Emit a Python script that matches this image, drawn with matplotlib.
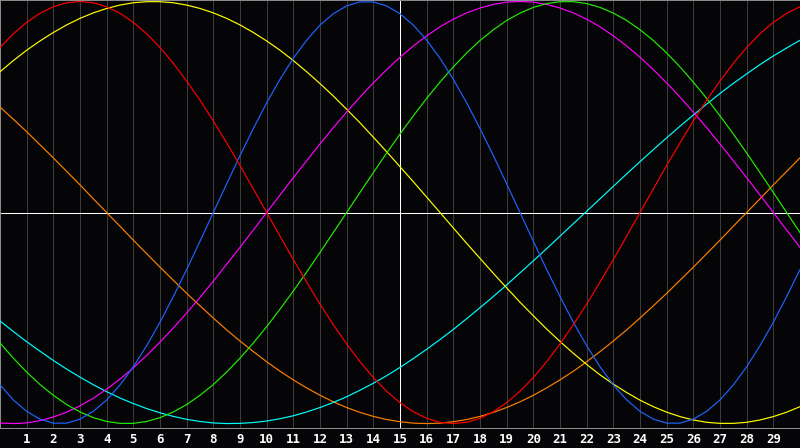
import matplotlib
matplotlib.use('Agg')
import matplotlib.pyplot as plt

days = [i / 2 for i in range(61)]
tick_days = list(range(1, 30))
today = 15

# values for each curve (-1 .. 1), one per half day
red = [0.782, 0.847, 0.901, 0.944, 0.975, 0.994, 1.000, 0.994, 0.975, 0.944,
       0.901, 0.847, 0.782, 0.707, 0.623, 0.532, 0.434, 0.330, 0.223, 0.112,
       0.0, -0.112, -0.223, -0.330, -0.434, -0.532, -0.623, -0.707, -0.782, -0.847,
       -0.901, -0.944, -0.975, -0.994, -1.000, -0.994, -0.975, -0.944, -0.901, -0.847,
       -0.782, -0.707, -0.623, -0.532, -0.434, -0.330, -0.223, -0.112, 0.0, 0.112,
       0.223, 0.330, 0.434, 0.532, 0.623, 0.707, 0.782, 0.847, 0.901, 0.944, 0.975]
blue = [-0.817, -0.888, -0.942, -0.979, -0.998, -0.998, -0.979, -0.942, -0.888, -0.817,
        -0.731, -0.631, -0.520, -0.398, -0.270, -0.136, 0.0, 0.136, 0.270, 0.398,
        0.520, 0.631, 0.731, 0.817, 0.888, 0.942, 0.979, 0.998, 0.998, 0.979,
        0.942, 0.888, 0.817, 0.731, 0.631, 0.520, 0.398, 0.270, 0.136, 0.0,
        -0.136, -0.270, -0.398, -0.520, -0.631, -0.731, -0.817, -0.888, -0.942, -0.979,
        -0.998, -0.998, -0.979, -0.942, -0.888, -0.817, -0.731, -0.631, -0.520, -0.398, -0.270]
green = [-0.618, -0.690, -0.756, -0.815, -0.866, -0.910, -0.945, -0.972, -0.990, -0.999,
         -0.999, -0.990, -0.972, -0.945, -0.910, -0.866, -0.815, -0.756, -0.690, -0.618,
         -0.541, -0.458, -0.372, -0.282, -0.189, -0.095, 0.0, 0.095, 0.189, 0.282,
         0.372, 0.458, 0.541, 0.618, 0.690, 0.756, 0.815, 0.866, 0.910, 0.945,
         0.972, 0.990, 0.999, 0.999, 0.990, 0.972, 0.945, 0.910, 0.866, 0.815,
         0.756, 0.690, 0.618, 0.541, 0.458, 0.372, 0.282, 0.189, 0.095, 0.0, -0.095]
magenta = [-0.997, -1.000, -0.997, -0.986, -0.969, -0.946, -0.916, -0.880, -0.837, -0.789,
           -0.736, -0.677, -0.614, -0.547, -0.476, -0.402, -0.325, -0.245, -0.165, -0.083,
           0.0, 0.083, 0.165, 0.245, 0.325, 0.402, 0.476, 0.547, 0.614, 0.677,
           0.736, 0.789, 0.837, 0.880, 0.916, 0.946, 0.969, 0.986, 0.997, 1.000,
           0.997, 0.986, 0.969, 0.946, 0.916, 0.880, 0.837, 0.789, 0.736, 0.677,
           0.614, 0.547, 0.476, 0.402, 0.325, 0.245, 0.165, 0.083, 0.0, -0.083, -0.165]
yellow = [0.667, 0.720, 0.769, 0.813, 0.853, 0.889, 0.920, 0.946, 0.967, 0.983,
          0.994, 0.999, 0.999, 0.994, 0.983, 0.967, 0.946, 0.920, 0.889, 0.853,
          0.813, 0.769, 0.720, 0.667, 0.611, 0.552, 0.489, 0.425, 0.357, 0.288,
          0.217, 0.146, 0.073, 0.0, -0.073, -0.146, -0.217, -0.288, -0.357, -0.425,
          -0.489, -0.552, -0.611, -0.667, -0.720, -0.769, -0.813, -0.853, -0.889, -0.920,
          -0.946, -0.967, -0.983, -0.994, -0.999, -0.999, -0.994, -0.983, -0.967, -0.946, -0.920]
orange = [0.500, 0.442, 0.383, 0.321, 0.259, 0.195, 0.131, 0.065, 0.0, -0.065,
          -0.131, -0.195, -0.259, -0.321, -0.383, -0.442, -0.500, -0.556, -0.609, -0.659,
          -0.707, -0.752, -0.793, -0.831, -0.866, -0.897, -0.924, -0.947, -0.966, -0.981,
          -0.991, -0.998, -1.000, -0.998, -0.991, -0.981, -0.966, -0.947, -0.924, -0.897,
          -0.866, -0.831, -0.793, -0.752, -0.707, -0.659, -0.609, -0.556, -0.500, -0.442,
          -0.383, -0.321, -0.259, -0.195, -0.131, -0.065, 0.0, 0.065, 0.131, 0.195, 0.259]
cyan = [-0.514, -0.564, -0.612, -0.657, -0.701, -0.742, -0.780, -0.816, -0.849, -0.879,
        -0.905, -0.929, -0.949, -0.966, -0.980, -0.990, -0.997, -1.000, -0.999, -0.995,
        -0.988, -0.977, -0.963, -0.945, -0.924, -0.900, -0.873, -0.842, -0.809, -0.773,
        -0.734, -0.692, -0.648, -0.602, -0.554, -0.503, -0.451, -0.398, -0.343, -0.286,
        -0.229, -0.171, -0.112, -0.053, 0.006, 0.065, 0.124, 0.183, 0.241, 0.298,
        0.354, 0.409, 0.462, 0.514, 0.564, 0.612, 0.657, 0.701, 0.742, 0.780, 0.816]

series = [
    (orange, '#ff8000'),
    (cyan, '#00ffff'),
    (yellow, '#ffff00'),
    (magenta, '#ff00ff'),
    (green, '#22ee00'),
    (blue, '#1e64ff'),
    (red, '#ff0000'),
]

bg = '#050508'
px = 0.72  # one pixel at 100 dpi

fig = plt.figure(figsize=(8, 4.48), dpi=100, facecolor=bg)
ax = fig.add_axes([0, 20 / 448, 1, 428 / 448])
ax.set_facecolor(bg)

# day grid
for d in tick_days:
    ax.axvline(d, color='#3c3c3c', lw=px, zorder=1, antialiased=False)

ax.axhline(0, color='white', lw=px, zorder=2, antialiased=False)
ax.axvline(today, color='white', lw=px, zorder=2, antialiased=False)

for vals, col in series:
    ax.plot(days, vals, color=col, lw=0.85, zorder=3)

ax.set_xlim(0, 30)
ax.set_ylim(-1.021, 1.007)

for side in ['left', 'top', 'bottom']:
    ax.spines[side].set_color('#8a8a8a')
    ax.spines[side].set_linewidth(px)
    ax.spines[side].set_antialiased(False)
ax.spines['right'].set_visible(False)

ax.set_xticks(tick_days)
ax.set_xticklabels([str(d) for d in tick_days], color='white', fontweight='bold',
                   fontsize=9, family='DejaVu Sans Mono')
ax.tick_params(axis='x', length=0, pad=3.5)
ax.set_yticks([])

fig.savefig('out.png', dpi=100, facecolor=bg)
